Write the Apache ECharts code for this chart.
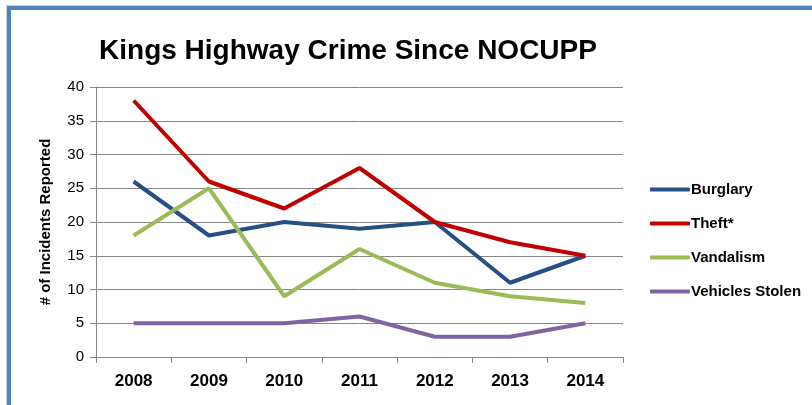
<!DOCTYPE html>
<html>
<head>
<meta charset="utf-8">
<script src="https://cdn.jsdelivr.net/npm/echarts@6/dist/echarts.min.js"></script>
<style>
  html, body { margin: 0; padding: 0; background: #fff; }
  #frame {
    position: absolute; left: 7px; top: 6px; width: 820px; height: 420px;
    border: 4px solid #4f81bd; box-sizing: border-box;
    box-shadow: 0 0 0 1px #c9d3df;
  }
  #chart { position: absolute; left: 0; top: 0; width: 812px; height: 405px; }
</style>
</head>
<body>
<div id="frame"></div>
<div id="chart"></div>
<script>
const years = ["2008", "2009", "2010", "2011", "2012", "2013", "2014"];
const burglary = [26, 18, 20, 19, 20, 11, 15];
const theft = [38, 26, 22, 28, 20, 17, 15];
const vandalism = [18, 25, 9, 16, 11, 9, 8];
const vehiclesStolen = [5, 5, 5, 6, 3, 3, 5];

const font = "'Liberation Sans', Arial, sans-serif";

function line(name, data, color) {
  return {
    name: name,
    type: "line",
    data: data,
    symbol: "none",
    lineStyle: { width: 4, color: color },
    itemStyle: { color: color }
  };
}

const chart = echarts.init(document.getElementById("chart"));
chart.setOption({
  animation: false,
  title: {
    text: "Kings Highway Crime Since NOCUPP",
    left: 343, top: 32, textAlign: "center",
    textStyle: { fontFamily: font, fontSize: 28, fontWeight: "bold", color: "#000" }
  },
  legend: {
    orient: "vertical",
    left: 645, top: 177,
    itemWidth: 40, itemHeight: 4, itemGap: 19,
    icon: "roundRect",
    textStyle: { fontFamily: font, fontSize: 15, fontWeight: "bold", color: "#000", padding: [0, 0, 0, -4] },
    data: ["Burglary", "Theft*", "Vandalism", "Vehicles Stolen"]
  },
  grid: { left: 96, top: 87, width: 527, height: 270 },
  xAxis: {
    type: "category",
    data: years,
    boundaryGap: true,
    axisLine: { lineStyle: { color: "#868686", width: 1 } },
    axisTick: { show: true, length: 6, lineStyle: { color: "#868686" } },
    axisLabel: { fontFamily: font, fontSize: 17, fontWeight: "bold", color: "#000", margin: 16 }
  },
  yAxis: {
    type: "value",
    min: 0, max: 40, interval: 5,
    name: "# of Incidents Reported",
    nameLocation: "middle",
    nameGap: 43,
    nameTextStyle: { fontFamily: font, fontSize: 15, fontWeight: "bold", color: "#000" },
    axisLine: { show: true, lineStyle: { color: "#868686", width: 1 } },
    axisTick: { show: true, length: 6, lineStyle: { color: "#868686" } },
    splitLine: { lineStyle: { color: "#868686", width: 1 } },
    axisLabel: { fontFamily: font, fontSize: 15, color: "#000", margin: 12 }
  },
  series: [
    line("Burglary", burglary, "#254f85"),
    line("Theft*", theft, "#c00000"),
    line("Vandalism", vandalism, "#9bbb59"),
    line("Vehicles Stolen", vehiclesStolen, "#8064a2")
  ]
});
</script>
</body>
</html>
